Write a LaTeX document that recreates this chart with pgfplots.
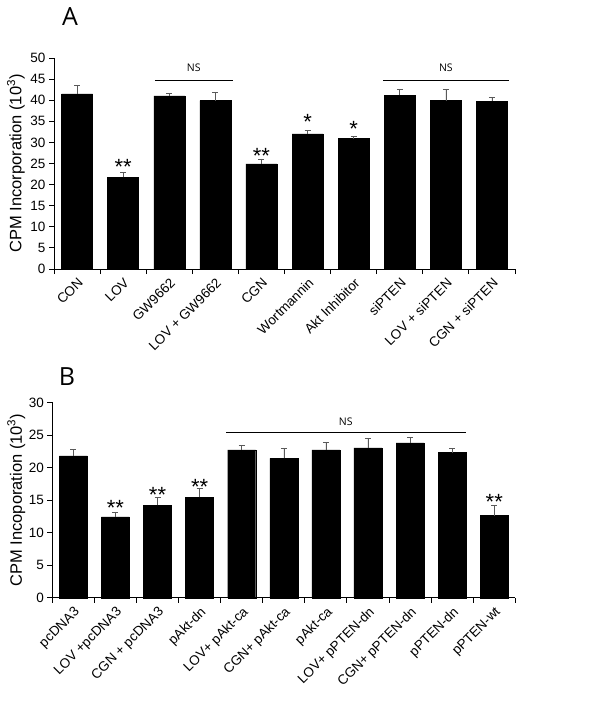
\documentclass[border=0pt]{standalone}
\usepackage{pgfplots}
\usepackage{pgfplotstable}
\pgfplotsset{compat=1.18}
\usepackage{fontspec}
\setmainfont{Liberation Sans}
\newfontfamily\osans{Open Sans}

\pgfplotstableread{
x y e
0 41.5 2.1
1 21.7 1.2
2 41.0 0.6
3 39.9 1.9
4 24.9 1.2
5 32.0 0.8
6 30.9 0.5
7 41.2 1.4
8 39.9 2.7
9 39.7 1.1
}\dataA

\pgfplotstableread{
x y e
0 21.8 1.0
1 12.4 0.7
2 14.2 1.2
3 15.4 1.4
4 22.7 0.7
5 21.4 1.6
6 22.7 1.2
7 23.0 1.5
8 23.8 0.8
9 22.3 0.6
10 12.6 1.6
}\dataB

\pgfplotsset{
  panel/.style={
    scale only axis,
    axis x line*=bottom, axis y line*=left,
    axis line style={line width=0.9pt, black},
    ymin=0,
    tick align=outside,
    major x tick style={draw=none},
    minor x tick style={line width=0.9pt, black},
    minor tick length=5pt,
    major tick length=5pt,
    y tick style={line width=0.9pt, black},
    /pgf/number format/assume math mode=true,
    yticklabel style={font=\fontsize{13.5}{15}\selectfont},
    xticklabel style={rotate=45, anchor=north east, font=\fontsize{13.5}{15}\selectfont, inner sep=2pt},
    ylabel style={at={(axis description cs:0,0.5)}, anchor=center, font=\fontsize{16.5}{18}\selectfont},
    clip=false,
  },
  ebar/.style={
    ybar, fill=black, draw=black,
    error bars/.cd, y dir=plus, y explicit,
    error bar style={line width=0.6pt, black!65},
    error mark options={rotate=90, mark size=3pt, line width=0.6pt, black!65},
    /pgfplots/.cd,
  },
}

\tikzset{st/.style={anchor=base, inner sep=0pt, font=\fontsize{22}{22}\selectfont},
         ns/.style={font=\osans\fontsize{10.5}{12}\selectfont}}

\begin{document}
\begin{tikzpicture}
\useasboundingbox (0pt,-708pt) rectangle (604pt,0pt);

\node[font=\osans\fontsize{25}{27}\selectfont] at (70pt,-17pt) {A};
\node[font=\osans\fontsize{25}{27}\selectfont] at (67pt,-377pt) {B};

% Panel A
\begin{axis}[panel,
  at={(54pt,-269pt)}, anchor=south west,
  width=461pt, height=211pt,
  xmin=-0.5, xmax=9.5, ymax=50,
  ytick={0,5,...,50},
  xtick={0,...,9},
  minor xtick={-0.5,0.5,...,9.5},
  xticklabels={CON, LOV, GW9662, LOV + GW9662, CGN, Wortmannin, Akt Inhibitor, siPTEN, LOV + siPTEN, CGN + siPTEN},
  ylabel style={yshift=38pt},
  ylabel={CPM Incorporation (10\textsuperscript{3})},
]
\addplot[bar width=31pt, ebar] table[x=x, y=y, y error=e] {\dataA};
\draw[line width=0.7pt] (axis cs:1.69,44.7) -- (axis cs:3.38,44.7);
\node[ns] at (axis cs:2.53,47.6) {NS};
\draw[line width=0.7pt] (axis cs:6.64,44.7) -- (axis cs:9.37,44.7);
\node[ns] at (axis cs:8.0,47.6) {NS};
\node[st] at (axis cs:1,22.5) {**};
\node[st] at (axis cs:4,24.9) {**};
\node[st] at (axis cs:5,33.1) {*};
\node[st] at (axis cs:6,31.5) {*};
\end{axis}

% Panel B
\begin{axis}[panel,
  at={(52.3pt,-597.7pt)}, anchor=south west,
  width=463pt, height=195.3pt,
  xmin=-0.5, xmax=10.5, ymax=30,
  ytick={0,5,...,30},
  xtick={0,...,10},
  minor xtick={-0.5,0.5,...,10.5},
  xticklabels={pcDNA3, LOV +pcDNA3, CGN + pcDNA3, pAkt-dn, LOV+ pAkt-ca, CGN+ pAkt-ca, pAkt-ca, LOV+ pPTEN-dn, CGN+ pPTEN-dn, pPTEN-dn, pPTEN-wt},
  ylabel style={yshift=36pt},
  ylabel={CPM Incoporation (10\textsuperscript{3})},
]
\addplot[bar width=28pt, ebar] table[x=x, y=y, y error=e] {\dataB};
\draw[line width=0.7pt] (axis cs:3.63,25.4) -- (axis cs:9.32,25.4);
\node[ns] at (axis cs:6.47,27.1) {NS};
\node[st] at (axis cs:1,12.6) {**};
\node[st] at (axis cs:2,14.6) {**};
\node[st] at (axis cs:3,15.9) {**};
\node[st] at (axis cs:10,13.5) {**};
\end{axis}
\end{tikzpicture}
\end{document}
